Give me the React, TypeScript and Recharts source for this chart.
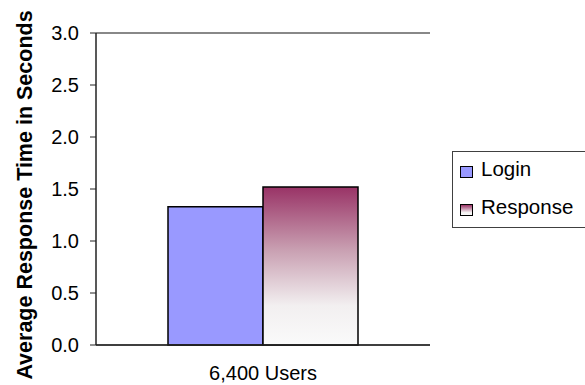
import {
  BarChart,
  Bar,
  XAxis,
  YAxis,
  CartesianGrid,
  ReferenceLine,
} from 'recharts';

const categories = ['6,400 Users'];
const loginTimes = [1.33];
const responseTimes = [1.52];
const yTicks = [0, 0.5, 1.0, 1.5, 2.0, 2.5, 3.0];

const chartData = categories.map((name, i) => ({
  name,
  login: loginTimes[i],
  response: responseTimes[i],
}));

const FONT = 'Arial, "Liberation Sans", sans-serif';

const AxisTitle = ({ viewBox }: { viewBox?: { y: number; height: number } }) => {
  const cy = (viewBox?.y ?? 0) + (viewBox?.height ?? 0) / 2 + 6;
  return (
    <text
      x={32}
      y={cy}
      transform={`rotate(-90, 32, ${cy})`}
      textAnchor="middle"
      fontFamily={FONT}
      fontSize={21.5}
      fontWeight="bold"
      fill="#000"
    >
      Average Response Time in Seconds
    </text>
  );
};

// legend drawn as a plain box so it doesn't eat into the plot area
const LegendBox = () => (
  <div
    style={{
      position: 'absolute',
      left: 452,
      top: 151,
      width: 150,
      height: 77,
      border: '1px solid #404040',
      background: '#fff',
      fontFamily: FONT,
      fontSize: 20.5,
      color: '#000',
      boxSizing: 'border-box',
    }}
  >
    <div style={{ position: 'absolute', left: 7, top: 14, width: 13, height: 12, boxSizing: 'border-box', border: '1px solid #000', background: '#9999FF' }} />
    <div style={{ position: 'absolute', left: 28, top: 5, lineHeight: '24px' }}>Login</div>
    <div
      style={{
        position: 'absolute',
        left: 7,
        top: 52,
        width: 13,
        height: 12,
        boxSizing: 'border-box',
        border: '1px solid #000',
        background: 'linear-gradient(#993366, #f4f2f2 75%, #fafafa)',
      }}
    />
    <div style={{ position: 'absolute', left: 28, top: 43, lineHeight: '24px' }}>Response</div>
  </div>
);

export default function App() {
  return (
    <div style={{ position: 'absolute', left: 0, top: 0, width: 585, height: 385, background: '#fff', overflow: 'hidden' }}>
      <BarChart
        width={585}
        height={385}
        data={chartData}
        margin={{ top: 33, right: 155, bottom: 0, left: 0 }}
        barCategoryGap={72}
        barGap={0}
      >
        <defs>
          <linearGradient id="responseFill" x1="0" y1="0" x2="0" y2="1">
            <stop offset="0%" stopColor="#993366" />
            <stop offset="40%" stopColor="#c9a0b2" />
            <stop offset="75%" stopColor="#f2eff0" />
            <stop offset="100%" stopColor="#fafafa" />
          </linearGradient>
        </defs>
        <CartesianGrid vertical={false} stroke="#333" strokeWidth={1} />
        <XAxis
          dataKey="name"
          height={40}
          axisLine={{ stroke: '#222', strokeWidth: 1.5 }}
          tickLine={false}
          tickSize={0}
          tickMargin={21}
          tick={{ fill: '#000', fontSize: 20, fontFamily: FONT }}
        />
        <YAxis
          yAxisId="left"
          width={96}
          domain={[0, 3]}
          ticks={yTicks}
          interval={0}
          tickFormatter={(v: number) => v.toFixed(1)}
          axisLine={{ stroke: '#222', strokeWidth: 1.5 }}
          tickLine={{ stroke: '#222' }}
          tickSize={6}
          tickMargin={11}
          tick={{ fill: '#000', fontSize: 20, fontFamily: FONT }}
          label={<AxisTitle />}
        />
        <YAxis
          yAxisId="right"
          orientation="right"
          width={0}
          domain={[0, 3]}
          tick={false}
          tickLine={false}
          axisLine={{ stroke: '#888', strokeWidth: 2 }}
        />
        <ReferenceLine yAxisId="left" y={3} stroke="#888" strokeWidth={2} />
        <Bar yAxisId="left" dataKey="login" name="Login" fill="#9999FF" stroke="#000" strokeWidth={1.5} isAnimationActive={false} />
        <Bar yAxisId="left" dataKey="response" name="Response" fill="url(#responseFill)" stroke="#000" strokeWidth={1.5} isAnimationActive={false} />
      </BarChart>
      <LegendBox />
    </div>
  );
}
